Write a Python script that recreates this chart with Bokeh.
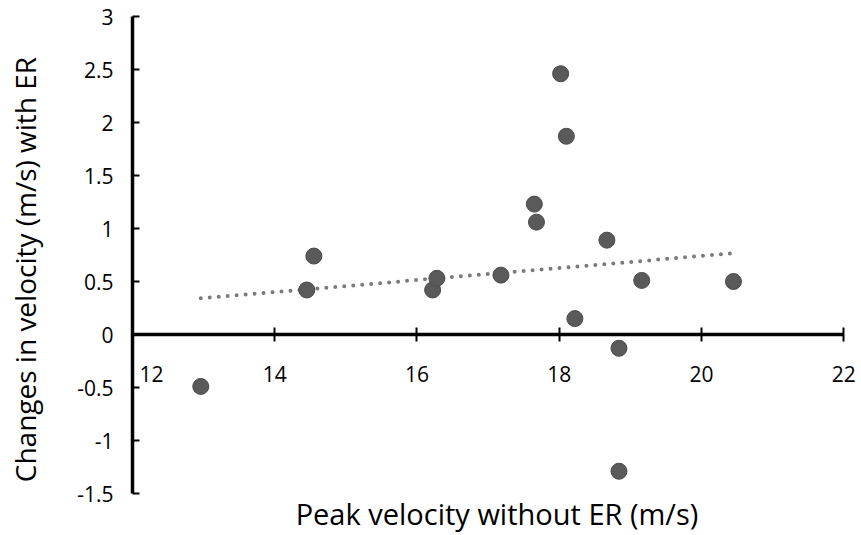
import numpy as np
from bokeh.plotting import figure
from bokeh.models import LinearAxis, Range1d, FixedTicker
from bokeh.embed import file_html
from bokeh.resources import INLINE

# Data
peak_velocity = [12.96, 14.45, 14.55, 16.22, 16.28, 17.18, 17.65, 17.68,
                 18.02, 18.10, 18.22, 18.67, 18.84, 18.84, 19.16, 20.45]
velocity_change = [-0.49, 0.42, 0.74, 0.42, 0.53, 0.56, 1.23, 1.06,
                   2.46, 1.87, 0.15, 0.89, -0.13, -1.29, 0.51, 0.50]
x_ticks = [12, 14, 16, 18, 20, 22]
y_ticks = [-1.5, -1, -0.5, 0, 0.5, 1, 1.5, 2, 2.5, 3]

FONT = "Open Sans"
TXT = "#000000"
NBSP = "\u00a0"

p = figure(width=861, height=535, output_backend="svg", toolbar_location=None,
           x_range=Range1d(12, 22.25), y_range=Range1d(-1.5, 3),
           x_axis_location=None, y_axis_location=None,
           min_border_left=132, min_border_right=0, min_border_top=16, min_border_bottom=39)
p.outline_line_color = None
p.xgrid.visible = False
p.ygrid.visible = False
p.background_fill_color = "white"

# trendline (least squares)
slope, intercept = np.polyfit(peak_velocity, velocity_change, 1)
tx = np.array([min(peak_velocity), max(peak_velocity)])
p.line(tx, slope * tx + intercept, line_color="#7a7a7a", line_width=4,
       line_dash="0 9", line_cap="round")

p.scatter(peak_velocity, velocity_change, size=16, fill_color="#5a5a5a",
          line_color="#4a4a4a", line_width=1)

# y axis
yax = LinearAxis(ticker=FixedTicker(ticks=y_ticks))
yax.major_label_overrides = {t: f"{t:g}" for t in y_ticks}
yax.axis_line_width = 3.5
yax.axis_line_color = "black"
yax.major_tick_line_width = 2
yax.major_tick_in = 7
yax.major_tick_out = 0
yax.minor_tick_line_color = None
yax.major_label_text_font = FONT
yax.major_label_text_font_size = "21px"
yax.major_label_text_color = TXT
yax.major_label_standoff = 19
yax.axis_label = "Changes in velocity (m/s) with ER" + NBSP * 4
yax.axis_label_text_font = FONT
yax.axis_label_text_font_size = "28px"
yax.axis_label_text_font_style = "normal"
yax.axis_label_text_color = TXT
yax.axis_label_standoff = 30
p.add_layout(yax, "left")

# x axis crossing at y = 0
xax = LinearAxis(ticker=FixedTicker(ticks=x_ticks), fixed_location=0, bounds=(12, 22))
xlab = {t: f"{t:g}" for t in x_ticks}
xlab[x_ticks[0]] = NBSP * 7 + xlab[x_ticks[0]]
xax.major_label_overrides = xlab
xax.axis_line_width = 3.5
xax.axis_line_color = "black"
xax.major_tick_line_width = 2
xax.major_tick_in = 7
xax.major_tick_out = 7
xax.minor_tick_line_color = None
xax.major_label_text_font = FONT
xax.major_label_text_font_size = "21px"
xax.major_label_text_color = TXT
xax.major_label_standoff = 18
p.add_layout(xax, "below")

# bottom axis used only for the title
xt = LinearAxis(ticker=FixedTicker(ticks=[]))
xt.axis_line_color = None
xt.major_tick_line_color = None
xt.minor_tick_line_color = None
xt.major_label_text_font_size = "0px"
xt.major_label_standoff = 0
xt.axis_label = "Peak velocity without ER (m/s)"
xt.axis_label_text_font = FONT
xt.axis_label_text_font_size = "29px"
xt.axis_label_text_font_style = "normal"
xt.axis_label_text_color = TXT
xt.axis_label_standoff = 0
p.add_layout(xt, "below")

open("out.html", "w").write(file_html(p, INLINE))
